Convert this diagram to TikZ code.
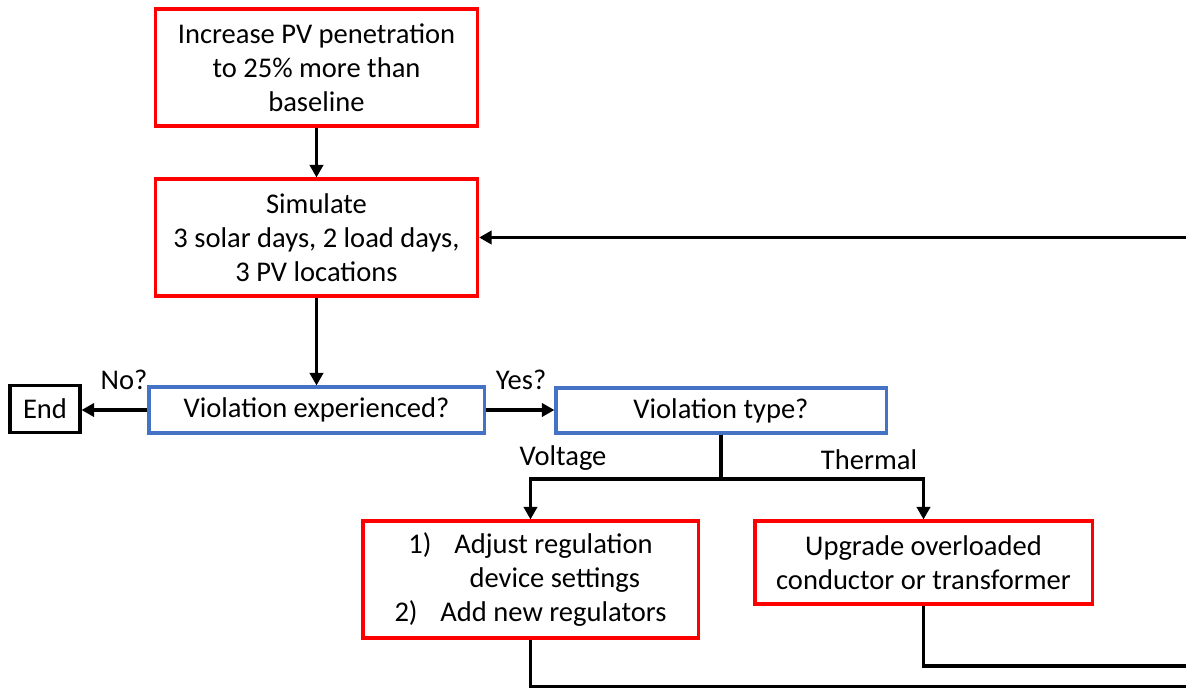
\documentclass[tikz,border=0pt]{standalone}
\usepackage{fontspec}
\setmainfont{Carlito}
\usetikzlibrary{arrows.meta}
\definecolor{boxred}{RGB}{255,0,0}
\definecolor{boxblue}{RGB}{68,114,196}

\begin{document}
\begin{tikzpicture}[x=0.025cm, y=-0.025cm,
	every node/.style={font=\fontsize{20.3}{24.2}\selectfont, align=center, inner sep=0pt},
	redbox/.style={draw=boxred, line width=2.2pt},
	bluebox/.style={draw=boxblue, line width=2.2pt},
	blackbox/.style={draw=black, line width=2.2pt},
	flow/.style={line width=2.8pt},
	arr/.style={flow, -{Triangle[length=9pt,width=9.5pt]}}]
	\useasboundingbox (0,0) rectangle (1186,687);
	\node[redbox, minimum width=8.05cm, minimum height=2.925cm] (inc) at (316.5,67.5) {Increase PV penetration\\to 25\% more than\\baseline};
	\node[redbox, minimum width=8.05cm, minimum height=2.925cm] (sim) at (316.5,237.5) {Simulate\\3 solar days, 2 load days,\\3 PV locations};
	\node[bluebox, minimum width=8.375cm, minimum height=1.15cm] (viol) at (316.5,410) {Violation experienced?};
	\node[blackbox, minimum width=1.75cm, minimum height=1.175cm] (endn) at (45,409) {End};
	\node[bluebox, minimum width=8.25cm, minimum height=1.125cm] (vtype) at (721,410.5) {Violation type?};
	\node[redbox, minimum width=8.375cm, minimum height=2.925cm] (adjust) at (530.5,579.5) {1)\hspace{0.8em}Adjust regulation\\\hspace*{1.7em}device settings\\2)\hspace{0.8em}Add new regulators};
	\node[redbox, minimum width=8.425cm, minimum height=2.075cm] (upgrade) at (923.5,562.5) {Upgrade overloaded\\conductor or transformer};
	\node (no) at (124,380) {No?};
	\node (yes) at (521,380) {Yes?};
	\node (volt) at (563,458) {Voltage};
	\node (therm) at (869,460) {Thermal};
	\coordinate (rtop) at (1186,237.5);
	\coordinate (rmid) at (1186,666);
	\coordinate (rbot) at (1186,686.5);
	\draw[arr] (inc.south) -- (sim.north);
	\draw[arr] (rtop) -- (sim.east);
	\draw[arr] (sim.south) -- (viol.north);
	\draw[arr] (viol.west) -- (viol.west -| endn.east);
	\draw[arr] (viol.east) -- (viol.east -| vtype.west);
	\draw[arr] (vtype.south) -- ++(0,44.5) -| (adjust.north);
	\draw[arr] (vtype.south) -- ++(0,44.5) -| (upgrade.north);
	\draw[flow] (adjust.south) |- (rbot);
	\draw[flow] (upgrade.south) |- (rmid);
\end{tikzpicture}
\end{document}
